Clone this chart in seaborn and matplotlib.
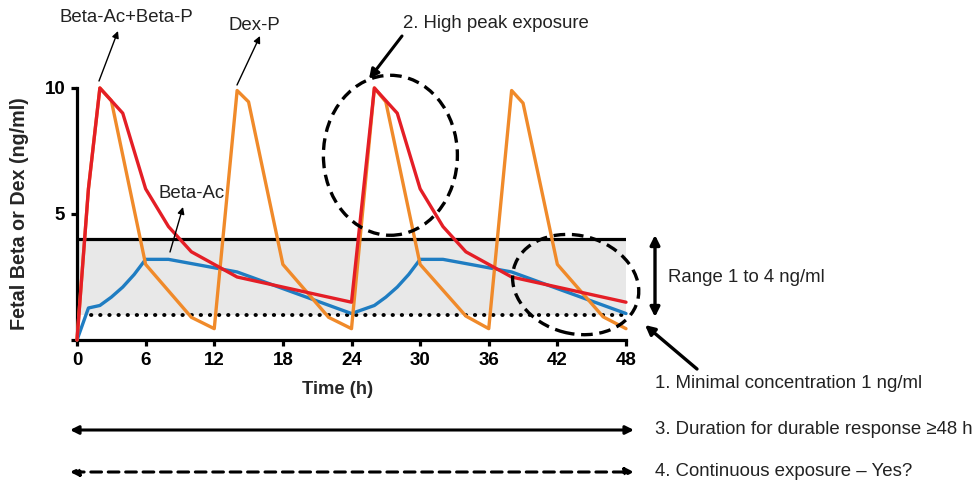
import numpy as np
import pandas as pd
import matplotlib
matplotlib.use("Agg")
import matplotlib.pyplot as plt
import seaborn as sns
from matplotlib.patches import Ellipse, FancyArrowPatch
from matplotlib.transforms import IdentityTransform, ScaledTranslation

# ---------------- data ----------------
beta_total_time = [0, 1, 2, 4, 6, 8, 10, 14, 24, 26, 28, 30, 32, 34, 38, 48]
beta_total_conc = [0, 6, 10, 9, 6, 4.5, 3.5, 2.5, 1.5, 10, 9, 6, 4.5, 3.5, 2.5, 1.5]

dex_time = [0, 1, 2, 3, 6, 10, 12, 14, 15, 18, 22, 24, 26, 27, 30, 34, 36, 38, 39, 42, 46, 48]
dex_conc = [0, 6, 10, 9.5, 3, 0.9, 0.45, 9.9, 9.45, 3, 0.9, 0.45, 10, 9.45, 3, 0.95, 0.45, 9.9, 9.4, 3, 0.92, 0.45]

beta_ac_time = [0, 1, 2, 3, 4, 5, 6, 8, 14, 24, 26, 27, 28, 29, 30, 32, 38, 48]
beta_ac_conc = [0, 1.27, 1.37, 1.7, 2.1, 2.6, 3.2, 3.2, 2.7, 1.05, 1.37, 1.7, 2.1, 2.6, 3.2, 3.2, 2.7, 1.05]

x_ticks = [0, 6, 12, 18, 24, 30, 36, 42, 48]
y_ticks = [0, 5, 10]
y_ticklabels = ["", "5", "10"]
range_low, range_high = 1, 4
x_max, y_max = 48, 10

RED = "#E41E26"
ORANGE = "#F08A2A"
BLUE = "#1F7DC2"
TXT = "#222222"

# ---------------- style ----------------
sns.set_style("ticks")
plt.rcParams["font.family"] = ["Liberation Sans", "DejaVu Sans"]

W, H = 973, 482
fig = plt.figure(figsize=(W / 100, H / 100), dpi=100)
ax = fig.add_axes([77 / W, 1 - 340 / H, 549 / W, 252 / H])


def F(x, y):
    return (x / W, 1 - y / H)


# band
ax.fill_between([0, x_max], range_low, range_high, color="#E8E8E8", lw=0, zorder=0)
ax.plot([0, x_max], [range_high, range_high], color="black", lw=2.3, zorder=1)
ax.plot([1.25, x_max], [range_low, range_low], color="black", lw=2.8,
        ls=(0, (0.1, 2.25)), dash_capstyle="round", zorder=1)

df_b = pd.DataFrame({"t": beta_ac_time, "c": beta_ac_conc})
df_d = pd.DataFrame({"t": dex_time, "c": dex_conc})
df_r = pd.DataFrame({"t": beta_total_time, "c": beta_total_conc})
sns.lineplot(data=df_b, x="t", y="c", color=BLUE, lw=2.4, ax=ax, zorder=3, clip_on=False)
sns.lineplot(data=df_d, x="t", y="c", color=ORANGE, lw=2.4, ax=ax, zorder=4, clip_on=False)
sns.lineplot(data=df_r, x="t", y="c", color=RED, lw=2.4, ax=ax, zorder=5, clip_on=False)

ax.set_xlim(0, x_max)
ax.set_ylim(0, y_max)
ax.set_xticks(x_ticks)
ax.set_yticks(y_ticks)
ax.set_yticklabels(y_ticklabels)
for s in ["top", "right"]:
    ax.spines[s].set_visible(False)
for s in ["left", "bottom"]:
    ax.spines[s].set_linewidth(2.3)
    ax.spines[s].set_color("black")
ax.tick_params(axis="both", length=4.5, width=2.3, color="black", pad=4,
               labelsize=13.5, labelcolor="black")
for lab in ax.get_xticklabels() + ax.get_yticklabels():
    lab.set_fontweight("bold")
ax.set_xlabel("Time (h)", fontsize=13.2, fontweight="bold")
ax.xaxis.set_label_coords((338 - 77) / 549, (340 - 381) / 252)
ax.set_ylabel("Fetal Beta or Dex (ng/ml)", fontsize=14.2, fontweight="bold")
ax.yaxis.set_label_coords((29 - 77) / 549, 0.5)


# ellipses in pixel units, centred on data points
def ellipse(cx, cy, w, h, ang):
    tr = IdentityTransform() + ScaledTranslation(cx, cy, ax.transData)
    e = Ellipse((0, 0), w, h, angle=ang, transform=tr, fill=False, ec="black",
                lw=2.4, ls=(0, (3.5, 2.0)), clip_on=False, zorder=6)
    ax.add_patch(e)


ellipse(27.4, 7.33, 134, 160, 0)
ellipse(43.6, 2.2, 128, 98, -15)

# annotations
fs = 13.4


def arrow(p0, p1, style="-|>", lw=1.0, ms=10, ls="-"):
    a = FancyArrowPatch(F(*p0), F(*p1), transform=fig.transFigure, arrowstyle=style,
                        mutation_scale=ms, lw=lw, color="black", linestyle=ls,
                        shrinkA=0, shrinkB=0)
    fig.patches.append(a)


fig.text(*F(126, 17), "Beta-Ac+Beta-P", fontsize=fs, color=TXT, ha="center", va="center")
arrow((99, 81), (118, 31))
fig.text(*F(254, 26), "Dex-P", fontsize=fs, color=TXT, ha="center", va="center")
arrow((237, 85), (260, 36))
fig.text(*F(403, 24), "2. High peak exposure", fontsize=fs, color=TXT, ha="left", va="center")
arrow((402, 36), (369, 79), lw=2.2, ms=14)
fig.text(*F(159, 193), "Beta-Ac", fontsize=fs, color=TXT, ha="left", va="center")
arrow((170, 252), (183, 207))

arrow((655, 235), (655, 317), style="<|-|>", lw=2.4, ms=14)
fig.text(*F(668, 277), "Range 1 to 4 ng/ml", fontsize=fs, color=TXT, ha="left", va="center")
arrow((697, 369), (645, 325), lw=2.4, ms=14)
fig.text(*F(655, 383), "1. Minimal concentration 1 ng/ml", fontsize=fs, color=TXT,
         ha="left", va="center")

arrow((70, 430), (634, 430), style="<|-|>", lw=2.2, ms=12)
fig.text(*F(655, 430), "3. Duration for durable response \u226548 h", fontsize=fs, color=TXT,
         ha="left", va="center")
arrow((70, 472), (634, 472), style="<|-|>", lw=2.2, ms=12, ls=(0, (3.5, 2.2)))
fig.text(*F(655, 472), "4. Continuous exposure \u2013 Yes?", fontsize=fs, color=TXT,
         ha="left", va="center")

fig.savefig("out.png", dpi=100)
